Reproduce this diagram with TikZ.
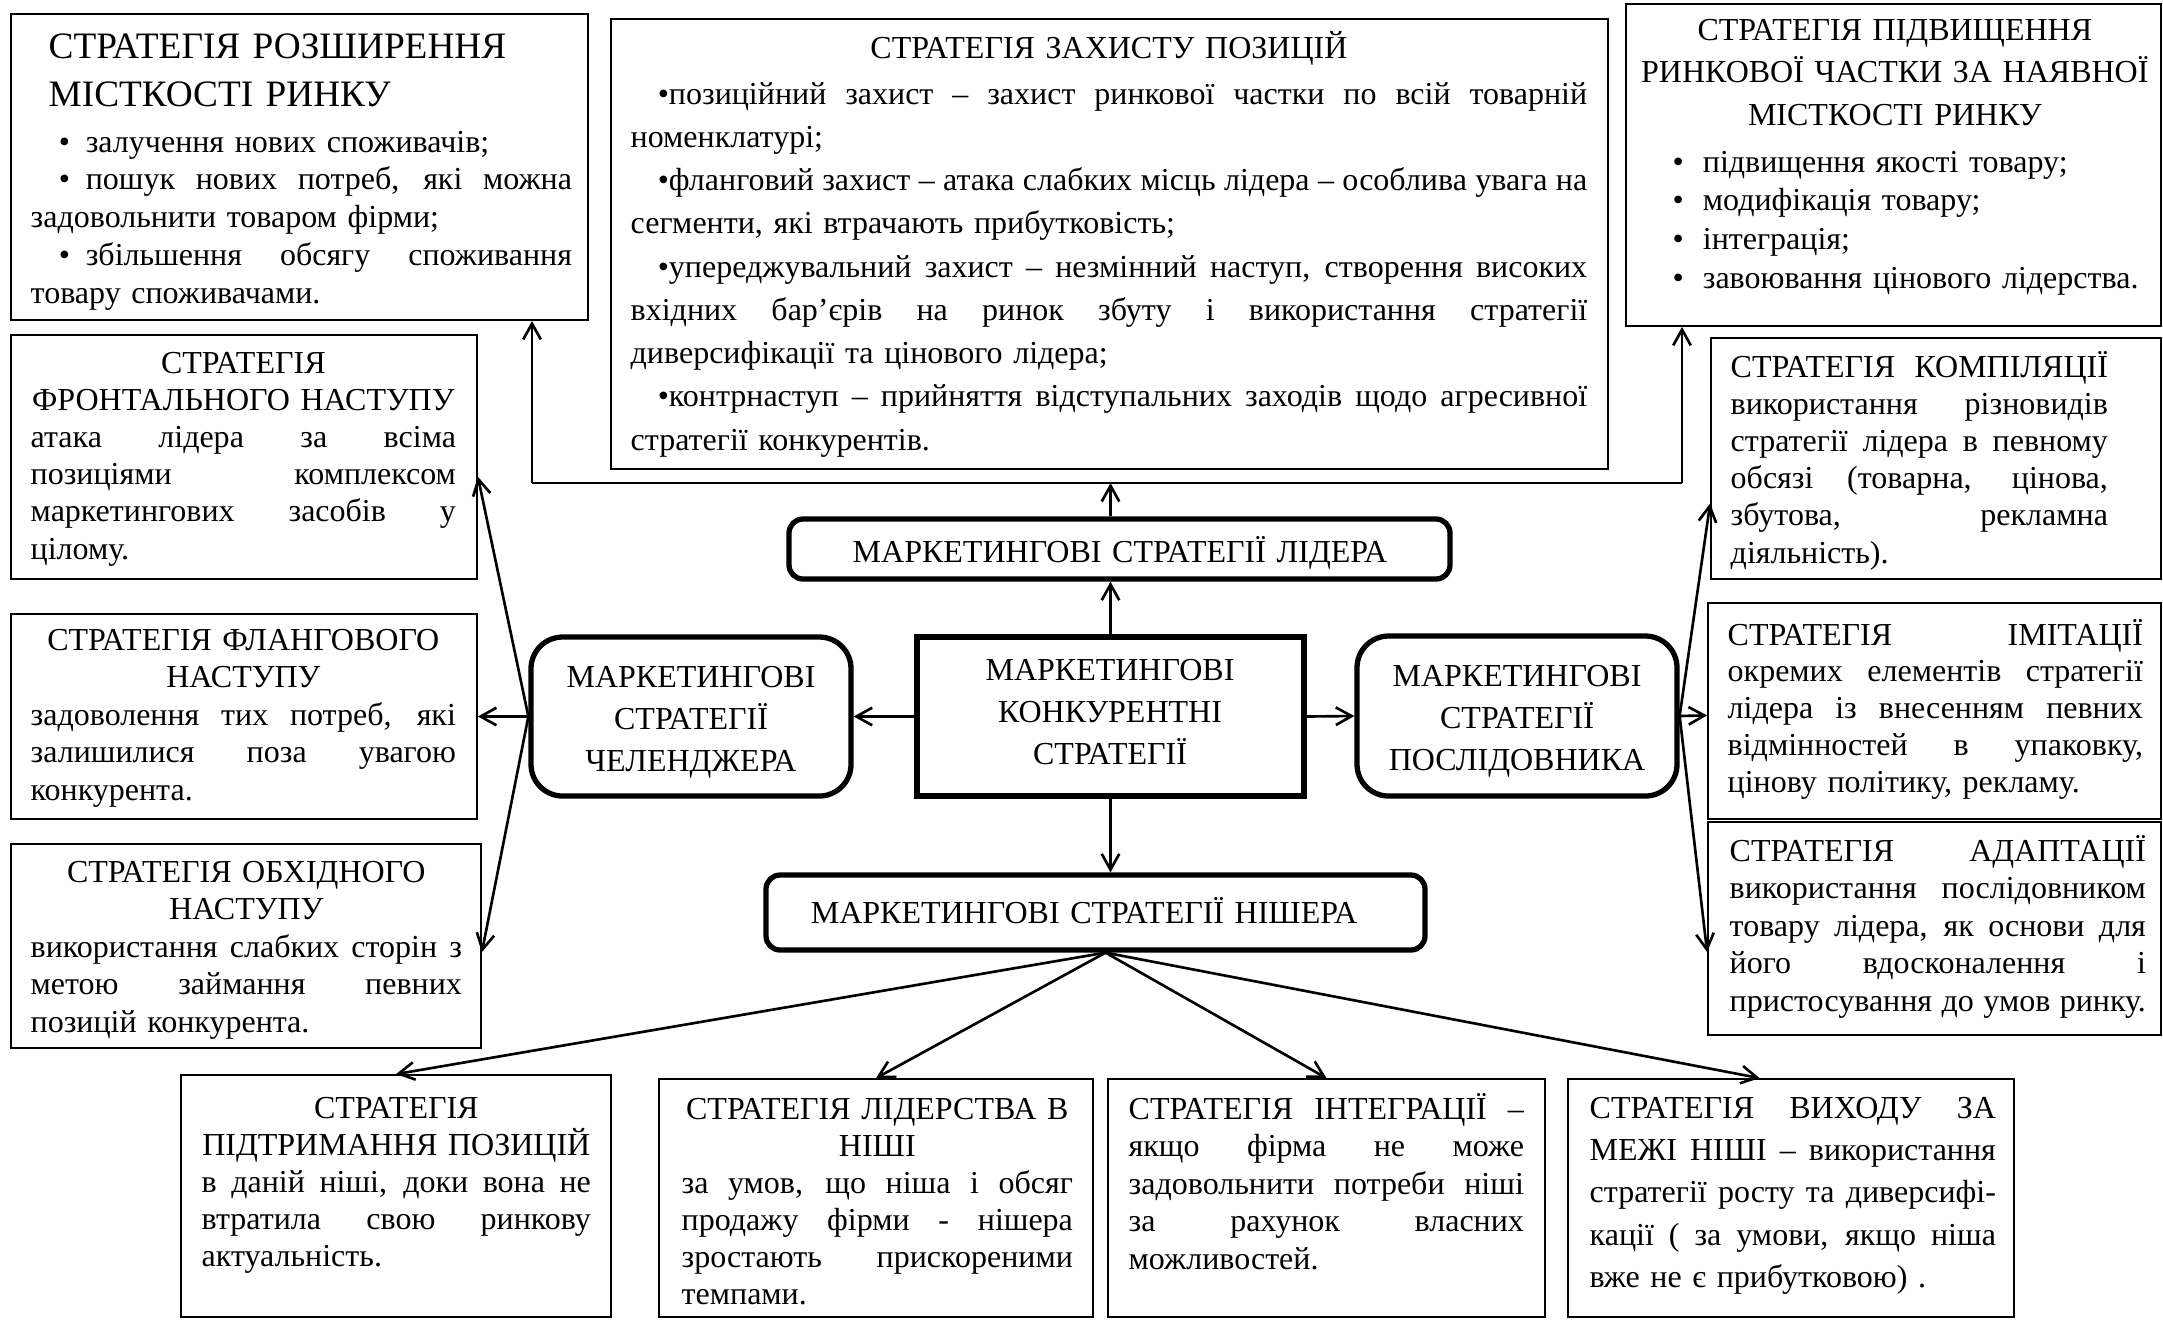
\documentclass[tikz,border=0pt]{standalone}
\usepackage{fontspec}
\setmainfont{Liberation Serif}
\usetikzlibrary{arrows.meta,fit,calc}

% justified line (spaces stretched or squeezed to the full width) and centred line
\newcommand\jl[1]{{\spaceskip=\fontdimen2\font plus 1fil minus 0.12em\relax
  \makebox[\linewidth][s]{#1}}}
\newcommand\cl[1]{\makebox[\linewidth][c]{#1}}

\begin{document}
\begin{tikzpicture}[x=0.01cm,y=-0.01cm,
  frame/.style={draw, line width=0.5pt, inner sep=0pt},
  hubbox/.style={draw, line width=1.5pt, inner sep=0pt},
  fs/.style 2 args={font=\fontsize{#1pt}{#2pt}\selectfont},
  txt/.style={anchor=base west, inner sep=0pt, align=left},
  ctxt/.style={anchor=base, inner sep=0pt, align=center, text width=6cm, fs={9.1}{11.95}},
  conn/.style={line width=0.75pt},
  arr/.style={conn, -{Straight Barb[length=4.5pt,width=5pt]}}
]
\fill[white] (0,0) rectangle (2163,1320);
\useasboundingbox (0,0) rectangle (2163,1320);

% ---------- top row ----------
\node[frame, fit={(11,14) (588,320)}] (A) {};
\node[txt, fs={10.6}{13.66}, text width=5.4cm] (A-title) at (48,58)
  {СТРАТЕГІЯ РОЗШИРЕННЯ\\МІСТКОСТІ РИНКУ};
\node[txt, fs={9.1}{10.8}, text width=5.41cm] (A-body) at (30,152)
  {\hspace*{8pt}•\hspace*{4.5pt}залучення нових споживачів;\\
   \jl{\hspace*{8pt}•\hspace*{4.5pt}пошук нових потреб, які можна}\\
   задовольнити товаром фірми;\\
   \jl{\hspace*{8pt}•\hspace*{4.5pt}збільшення обсягу споживання}\\
   товару споживачами.};

\node[frame, fit={(611,19) (1608,469)}] (B) {};
\node[txt, fs={9.1}{12.3}, text width=9.56cm, align=center] (B-title) at (630,58)
  {СТРАТЕГІЯ ЗАХИСТУ ПОЗИЦІЙ};
\node[txt, fs={9.1}{12.3}, text width=9.56cm] (B-body) at (630,104)
  {\jl{\hspace*{7.7pt}•позиційний захист – захист ринкової частки по всій товарній}\\
   номенклатурі;\\
   \jl{\hspace*{7.7pt}•фланговий захист – атака слабких місць лідера – особлива увага на}\\
   сегменти, які втрачають прибутковість;\\
   \jl{\hspace*{7.7pt}•упереджувальний захист – незмінний наступ, створення високих}\\
   \jl{вхідних бар’єрів на ринок збуту і використання стратегії}\\
   диверсифікації та цінового лідера;\\
   \jl{\hspace*{7.7pt}•контрнаступ – прийняття відступальних заходів щодо агресивної}\\
   стратегії конкурентів.};

\node[frame, fit={(1626,4) (2161,326)}] (C) {};
\node[txt, fs={9.1}{12.2}, text width=5.2cm, align=center] (C-title) at (1634,40)
  {СТРАТЕГІЯ ПІДВИЩЕННЯ\\РИНКОВОЇ ЧАСТКИ ЗА НАЯВНОЇ\\МІСТКОСТІ РИНКУ};
\node[txt, fs={9.1}{11}, text width=4.8cm] (C-body) at (1672,172)
  {•\hspace*{5.4pt}підвищення якості товару;\\
   •\hspace*{5.4pt}модифікація товару;\\
   •\hspace*{5.4pt}інтеграція;\\
   •\hspace*{5.4pt}завоювання цінового лідерства.};

% ---------- left column ----------
\node[frame, fit={(11,335) (477,579)}] (D) {};
\node[txt, fs={9.1}{10.58}, text width=4.25cm] (D-txt) at (30,373)
  {\cl{СТРАТЕГІЯ}\\ \cl{ФРОНТАЛЬНОГО НАСТУПУ}\\
   \jl{атака лідера за всіма}\\ \jl{позиціями комплексом}\\
   \jl{маркетингових засобів у}\\ цілому.};

\node[frame, fit={(11,614) (477,819)}] (E) {};
\node[txt, fs={9.1}{10.7}, text width=4.25cm] (E-txt) at (30,650)
  {\cl{СТРАТЕГІЯ ФЛАНГОВОГО}\\ \cl{НАСТУПУ}\\
   \jl{задоволення тих потреб, які}\\ \jl{залишилися поза увагою}\\ конкурента.};

\node[frame, fit={(11,844) (481,1048)}] (F) {};
\node[txt, fs={9.1}{10.7}, text width=4.31cm] (F-txt) at (30,882)
  {\cl{СТРАТЕГІЯ ОБХІДНОГО}\\ \cl{НАСТУПУ}\\
   \jl{використання слабких сторін з}\\ \jl{метою займання певних}\\ позицій конкурента.};

% ---------- right column ----------
\node[frame, fit={(1711,338) (2161,579)}] (G) {};
\node[txt, fs={9.1}{10.58}, text width=3.77cm] (G-txt) at (1730,377)
  {\jl{СТРАТЕГІЯ КОМПІЛЯЦІЇ}\\ \jl{використання різновидів}\\
   \jl{стратегії лідера в певному}\\ \jl{обсязі (товарна, цінова,}\\
   \jl{збутова, рекламна}\\ діяльність).};

\node[frame, fit={(1708,603) (2161,819)}] (H) {};
\node[txt, fs={9.1}{10.5}, text width=4.15cm] (H-txt) at (1727,645)
  {\jl{СТРАТЕГІЯ ІМІТАЦІЇ}\\ \jl{окремих елементів стратегії}\\
   \jl{лідера із внесенням певних}\\ \jl{відмінностей в упаковку,}\\
   цінову політику, рекламу.};

\node[frame, fit={(1708,822) (2161,1035)}] (I) {};
\node[txt, fs={9.1}{10.7}, text width=4.16cm] (I-txt) at (1729,861)
  {\jl{СТРАТЕГІЯ АДАПТАЦІЇ}\\ \jl{використання послідовником}\\
   \jl{товару лідера, як основи для}\\ \jl{його вдосконалення і}\\
   \jl{пристосування до умов ринку.}};

% ---------- bottom row ----------
\node[frame, fit={(181,1075) (611,1317)}] (J) {};
\node[txt, fs={9.1}{10.58}, text width=3.89cm] (J-txt) at (201,1118)
  {\cl{СТРАТЕГІЯ}\\ \cl{ПІДТРИМАННЯ ПОЗИЦІЙ}\\
   \jl{в даній ніші, доки вона не}\\ \jl{втратила свою ринкову}\\ актуальність.};

\node[frame, fit={(659,1079) (1093,1317)}] (K) {};
\node[txt, fs={9.1}{10.53}, text width=3.91cm] (K-txt) at (681,1119)
  {\cl{СТРАТЕГІЯ ЛІДЕРСТВА В}\\ \cl{НІШІ}\\
   \jl{за умов, що ніша і обсяг}\\ \jl{продажу фірми - нішера}\\
   \jl{зростають прискореними}\\ темпами.};

\node[frame, fit={(1108,1079) (1545,1317)}] (L) {};
\node[txt, fs={9.1}{10.7}, text width=3.95cm] (L-txt) at (1128,1119)
  {\jl{СТРАТЕГІЯ ІНТЕГРАЦІЇ –}\\ \jl{якщо фірма не може}\\
   \jl{задовольнити потреби ніші}\\ \jl{за рахунок власних}\\ можливостей.};

\node[frame, fit={(1568,1079) (2014,1317)}] (M) {};
\node[txt, fs={9.1}{12.06}, text width=4.06cm] (M-txt) at (1589,1118)
  {\jl{СТРАТЕГІЯ ВИХОДУ ЗА}\\ \jl{МЕЖІ НІШІ – використання}\\
   \jl{стратегії росту та диверсифі-}\\ \jl{кації ( за умови, якщо ніша}\\
   вже не є прибутковою) .};

% ---------- central hub ----------
\node[hubbox, rounded corners=4pt, fit={(789,519) (1450,579)}] (lead) {};
\node[ctxt] (lead-txt) at (1120,562) {МАРКЕТИНГОВІ СТРАТЕГІЇ ЛІДЕРА};

\node[hubbox, rounded corners=9pt, fit={(531,637) (851,796)}] (chal) {};
\node[ctxt] (chal-txt) at (691,687) {МАРКЕТИНГОВІ\\СТРАТЕГІЇ\\ЧЕЛЕНДЖЕРА};

\node[hubbox, fit={(917,637) (1304,796)}] (cent) {};
\node[ctxt] (cent-txt) at (1110,680) {МАРКЕТИНГОВІ\\КОНКУРЕНТНІ\\СТРАТЕГІЇ};

\node[hubbox, rounded corners=9pt, fit={(1357,636) (1677,796)}] (foll) {};
\node[ctxt] (foll-txt) at (1517,686) {МАРКЕТИНГОВІ\\СТРАТЕГІЇ\\ПОСЛІДОВНИКА};

\node[hubbox, rounded corners=4pt, fit={(766,875) (1425,950)}] (nich) {};
\node[ctxt] (nich-txt) at (1084,923) {МАРКЕТИНГОВІ СТРАТЕГІЇ НІШЕРА};

% ---------- connectors ----------
\coordinate (hubL) at (532,483);
\coordinate (hubR) at (1682,483);
\coordinate (fan) at ($(nich.south)+(10,0)$);

\draw[arr] (cent.north) -- (cent.north |- lead.south);
\draw[arr] (cent.north |- lead.north) -- (cent.north |- hubL);
\draw[conn] (hubL) -- (hubR);
\draw[arr] (hubL) -- (hubL |- A.south);
\draw[arr] (hubR) -- (hubR |- C.south);

\draw[arr] (cent.west) -- (chal.east);
\draw[arr] (cent.east) -- (foll.west);
\draw[arr] (cent.south) -- (cent.south |- nich.north);

\draw[arr] (chal.west) -- ($(D.north east)!0.58!(D.south east)$);
\draw[arr] (chal.west) -- (E.east);
\draw[arr] (chal.west) -- ($(F.north east)!0.53!(F.south east)$);

\draw[arr] (foll.east) -- ($(G.north west)!0.685!(G.south west)$);
\draw[arr] (foll.east) -- ($(H.north west)!0.52!(H.south west)$);
\draw[arr] (foll.east) -- ($(I.north west)!0.61!(I.south west)$);

\draw[arr] (fan) -- (J.north);
\draw[arr] (fan) -- (K.north);
\draw[arr] (fan) -- (L.north);
\draw[arr] (fan) -- ($(M.north west)!0.43!(M.north east)$);
\end{tikzpicture}
\end{document}
